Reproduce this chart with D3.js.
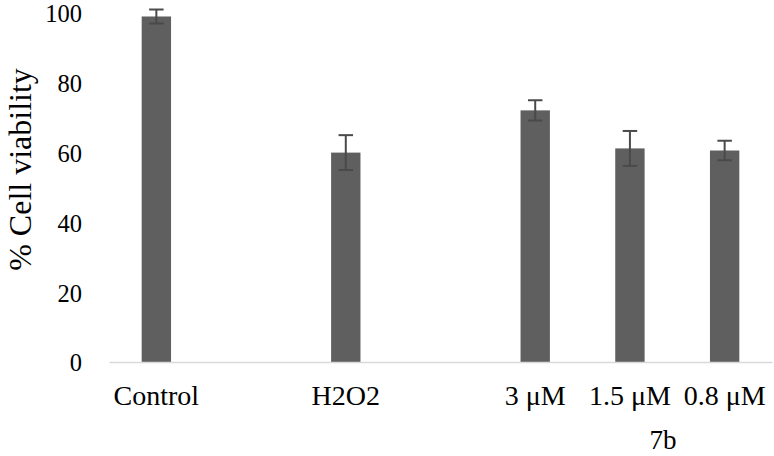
<!DOCTYPE html>
<html>
<head>
<meta charset="utf-8">
<script src="https://cdn.jsdelivr.net/npm/d3@7"></script>
<style>
  html, body { margin: 0; padding: 0; background: #ffffff; }
  svg { display: block; }
  text { font-family: "Liberation Serif", "Times New Roman", serif; fill: #000; }
</style>
</head>
<body>
<svg id="chart" width="774" height="456"></svg>
<script>
// ---- data ----
const slots = ["Control", "gap1", "H2O2", "gap2", "3 μM", "1.5 μM", "0.8 μM"];
const categories = ["Control", "H2O2", "3 μM", "1.5 μM", "0.8 μM"];
const values = [99.0, 60.0, 72.1, 61.2, 60.6];
const errors = [2.0, 5.0, 2.9, 5.0, 2.8];
const yTicks = [0, 20, 40, 60, 80, 100];
const yTitle = "% Cell viability";
const groupLabel = "7b";

// ---- layout ----
const W = 774, H = 456;
const margin = { top: 13, right: 2, bottom: 94, left: 109 };
const iw = W - margin.left - margin.right;
const ih = H - margin.top - margin.bottom;

const svg = d3.select("#chart");
const g = svg.append("g").attr("transform", `translate(${margin.left},${margin.top})`);

const x = d3.scaleBand().domain(slots).range([0, iw]).padding(0);
const y = d3.scaleLinear().domain([0, 100]).range([ih, 0]);

const barW = x.bandwidth() * 0.31;

// y axis (labels only)
const yAxis = g.append("g")
  .call(d3.axisLeft(y).tickValues(yTicks).tickSize(0).tickPadding(27));
yAxis.select(".domain").remove();
yAxis.selectAll("text")
  .style("font-family", "'Liberation Serif', serif")
  .style("font-size", "24.5px")
  .attr("fill", "#000")
  .attr("dy", "0.36em");

// bars
const data = categories.map((c, i) => ({ c, v: values[i], e: errors[i] }));
g.selectAll("rect.bar").data(data).join("rect")
  .attr("class", "bar")
  .attr("x", d => x(d.c) + x.bandwidth() / 2 - barW / 2)
  .attr("width", barW)
  .attr("y", d => y(d.v))
  .attr("height", d => y(0) - y(d.v))
  .attr("fill", "#5f5f5f");

// x axis
const xAxis = g.append("g")
  .attr("transform", `translate(0,${ih})`)
  .call(d3.axisBottom(x).tickSize(0).tickSizeOuter(0)
    .tickFormat(d => d.startsWith("gap") ? "" : d));
xAxis.select(".domain").attr("stroke", "#d9d9d9").attr("stroke-width", 1.5);
xAxis.selectAll("text")
  .style("font-family", "'Liberation Serif', serif")
  .style("font-size", "28px")
  .attr("fill", "#000")
  .attr("y", 43)
  .attr("dy", 0);

// error bars
const capW = 14.5;
const eb = g.selectAll("g.err").data(data).join("g").attr("class", "err")
  .attr("stroke", "#4a4a4a").attr("stroke-width", 2);
eb.append("line")
  .attr("x1", d => x(d.c) + x.bandwidth() / 2)
  .attr("x2", d => x(d.c) + x.bandwidth() / 2)
  .attr("y1", d => y(d.v - d.e))
  .attr("y2", d => y(d.v + d.e));
eb.append("line")
  .attr("x1", d => x(d.c) + x.bandwidth() / 2 - capW / 2)
  .attr("x2", d => x(d.c) + x.bandwidth() / 2 + capW / 2)
  .attr("y1", d => y(d.v + d.e))
  .attr("y2", d => y(d.v + d.e));
eb.append("line")
  .attr("x1", d => x(d.c) + x.bandwidth() / 2 - capW / 2)
  .attr("x2", d => x(d.c) + x.bandwidth() / 2 + capW / 2)
  .attr("y1", d => y(d.v - d.e))
  .attr("y2", d => y(d.v - d.e));

// group label
g.append("text")
  .attr("x", x("1.5 μM") + x.bandwidth() * 0.85)
  .attr("y", ih + 87)
  .attr("text-anchor", "middle")
  .style("font-size", "27px")
  .text(groupLabel);

// y title
svg.append("text")
  .attr("transform", `translate(31,${margin.top + ih / 2 - 18}) rotate(-90)`)
  .attr("text-anchor", "middle")
  .style("font-size", "32px")
  .text(yTitle);
</script>
</body>
</html>
